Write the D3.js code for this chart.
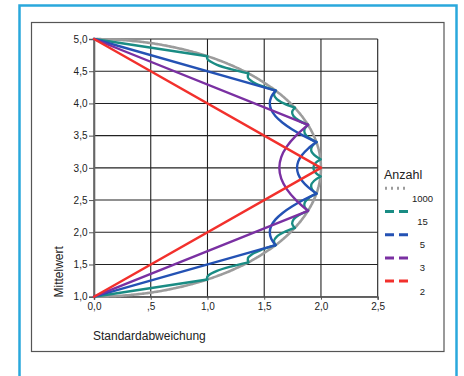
<!DOCTYPE html>
<html><head><meta charset="utf-8">
<script src="https://cdn.jsdelivr.net/npm/d3@7"></script>
<style>body{margin:0;background:#fff;}svg{display:block;font-family:"Liberation Sans",Arial,sans-serif;}</style>
</head><body>
<svg id="c" width="464" height="376"></svg>
<script>
// ---- data: [Standardabweichung, Mittelwert] points, one array per curve segment ----
const xTicks = [0, 0.5, 1, 1.5, 2, 2.5];
const xTickLabels = ["0,0", ",5", "1,0", "1,5", "2,0", "2,5"];
const yTicks = [1, 1.5, 2, 2.5, 3, 3.5, 4, 4.5, 5];
const yTickLabels = ["1,0", "1,5", "2,0", "2,5", "3,0", "3,5", "4,0", "4,5", "5,0"];
const legendNames = ["1000", "15", "5", "3", "2"];
const legendColors = ["#9c9c9c", "#1a8c84", "#2452b4", "#7a30a2", "#f2302c"];

const series1000 = [[
  [0,1.0],[0.200,1.01],[0.282,1.02],[0.444,1.05],[0.625,1.1],[0.872,1.2],[1.054,1.3],[1.200,1.4],
  [1.323,1.5],[1.428,1.6],[1.600,1.8],[1.732,2.0],[1.833,2.2],[1.908,2.4],[1.960,2.6],[1.990,2.8],
  [2.000,3.0],[1.990,3.2],[1.960,3.4],[1.908,3.6],[1.833,3.8],[1.732,4.0],[1.600,4.2],[1.428,4.4],
  [1.323,4.5],[1.200,4.6],[1.054,4.7],[0.872,4.8],[0.625,4.9],[0.444,4.95],[0.282,4.98],[0.200,4.99],[0,5.0]
]];
const series15 = [
  [[0,1],[0.998,1.267]],
  [[0.998,1.267],[0.997,1.300],[1.011,1.333],[1.084,1.400],[1.204,1.467],[1.360,1.533]],
  [[1.360,1.533],[1.357,1.600],[1.399,1.667],[1.482,1.733],[1.600,1.800]],
  [[1.600,1.800],[1.586,1.867],[1.611,1.933],[1.673,2.000],[1.769,2.067]],
  [[1.769,2.067],[1.746,2.133],[1.759,2.200],[1.807,2.267],[1.886,2.333]],
  [[1.886,2.333],[1.855,2.400],[1.858,2.467],[1.893,2.533],[1.960,2.600]],
  [[1.960,2.600],[1.921,2.667],[1.914,2.733],[1.940,2.800],[1.996,2.867]],
  [[1.996,2.867],[1.949,2.933],[1.933,3.000],[1.949,3.067],[1.996,3.133]],
  [[1.996,3.133],[1.940,3.200],[1.914,3.267],[1.921,3.333],[1.960,3.400]],
  [[1.960,3.400],[1.893,3.467],[1.858,3.533],[1.855,3.600],[1.886,3.667]],
  [[1.886,3.667],[1.807,3.733],[1.759,3.800],[1.746,3.867],[1.769,3.933]],
  [[1.769,3.933],[1.673,4.000],[1.611,4.067],[1.586,4.133],[1.600,4.200]],
  [[1.600,4.200],[1.482,4.267],[1.399,4.333],[1.357,4.400],[1.360,4.467]],
  [[1.360,4.467],[1.204,4.533],[1.084,4.600],[1.011,4.667],[0.997,4.700],[0.998,4.733]],
  [[0.998,4.733],[0,5]]
];
const series5 = [
  [[0,1],[1.6,1.8]],
  [[1.6,1.8],[1.562,1.9],[1.549,2.0],[1.562,2.1],[1.600,2.2],[1.662,2.3],[1.744,2.4],[1.844,2.5],[1.96,2.6]],
  [[1.96,2.6],[1.887,2.7],[1.833,2.8],[1.800,2.9],[1.789,3.0],[1.800,3.1],[1.833,3.2],[1.887,3.3],[1.96,3.4]],
  [[1.96,3.4],[1.844,3.5],[1.744,3.6],[1.662,3.7],[1.600,3.8],[1.562,3.9],[1.549,4.0],[1.562,4.1],[1.6,4.2]],
  [[1.6,4.2],[0,5]]
];
const series3 = [
  [[0,1],[1.886,2.333]],
  [[1.886,2.333],[1.780,2.5],[1.700,2.667],[1.650,2.833],[1.633,3.0],[1.650,3.167],[1.700,3.333],[1.780,3.5],[1.886,3.667]],
  [[1.886,3.667],[0,5]]
];
const series2 = [
  [[0,1],[2,3]],
  [[2,3],[0,5]]
];
const allSeries = [series1000, series15, series5, series3, series2];

// ---- drawing ----
const svg = d3.select("#c");
svg.append("rect").attr("x",19.5).attr("y",5.5).attr("width",437).attr("height",380)
  .attr("fill","none").attr("stroke","#2aa8dc").attr("stroke-width",2.5);
svg.append("rect").attr("x",31.5).attr("y",22.5).attr("width",412.5).attr("height",329)
  .attr("fill","none").attr("stroke","#555").attr("stroke-width",1.2);

const x = d3.scaleLinear().domain([0,2.5]).range([94,377.7]);
const y = d3.scaleLinear().domain([1,5]).range([296.7,39]);

const grid = svg.append("g");
grid.selectAll("line.v").data(xTicks).join("line")
  .attr("x1",d=>x(d)).attr("x2",d=>x(d)).attr("y1",y(5)).attr("y2",y(1))
  .attr("stroke","#222").attr("stroke-width",1.1);
grid.selectAll("line.h").data(yTicks).join("line")
  .attr("x1",x(0)).attr("x2",x(2.5)).attr("y1",d=>y(d)).attr("y2",d=>y(d))
  .attr("stroke","#222").attr("stroke-width",1.1);

const xAxis = svg.append("g").attr("transform",`translate(0,${y(1)})`)
  .call(d3.axisBottom(x).tickValues(xTicks).tickSize(3).tickPadding(3)
    .tickFormat((d,i)=>xTickLabels[i]));
const yAxis = svg.append("g").attr("transform",`translate(${x(0)},0)`)
  .call(d3.axisLeft(y).tickValues(yTicks).tickSize(5).tickPadding(1.5)
    .tickFormat((d,i)=>yTickLabels[i]));
[xAxis,yAxis].forEach(a=>{
  a.select(".domain").attr("stroke","#666").attr("stroke-width",1.6);
  a.selectAll(".tick line").attr("stroke","#555");
  a.selectAll("text").attr("font-size",10).attr("fill","#222")
   .attr("font-family","'Liberation Sans',Arial,sans-serif");
});

const line = d3.line().x(d=>x(d[0])).y(d=>y(d[1])).curve(d3.curveCatmullRom.alpha(0.5));
const plot = svg.append("g");
allSeries.forEach((s,i)=>{
  plot.append("g").selectAll("path").data(s).join("path")
    .attr("d",line).attr("fill","none").attr("stroke",legendColors[i])
    .attr("stroke-width", i===0 ? 2.6 : 2.4)
    .attr("stroke-dasharray", i===0 ? "3,0.8" : null)
    .attr("stroke-linejoin","round").attr("stroke-linecap","round");
});

svg.append("text").attr("transform",`translate(63,297.5) rotate(-90)`)
  .attr("font-size",12).attr("fill","#222").text("Mittelwert");
svg.append("text").attr("x",93).attr("y",340).attr("font-size",12).attr("fill","#222")
  .text("Standardabweichung");

const lg = svg.append("g");
lg.append("text").attr("x",384).attr("y",178.5).attr("font-size",12.5).attr("fill","#222").text("Anzahl");
legendNames.forEach((n,i)=>{
  const yy = 188.3 + i*23.2;
  lg.append("line").attr("x1",385).attr("x2",408).attr("y1",yy).attr("y2",yy)
    .attr("stroke",legendColors[i]).attr("stroke-width",3)
    .attr("stroke-dasharray", i===0 ? "2,4" : "9,5");
  lg.append("text").attr("x",422.5).attr("y",yy+13.5).attr("text-anchor","middle")
    .attr("font-size",9.5).attr("fill","#222").text(n);
});
</script>
</body></html>
